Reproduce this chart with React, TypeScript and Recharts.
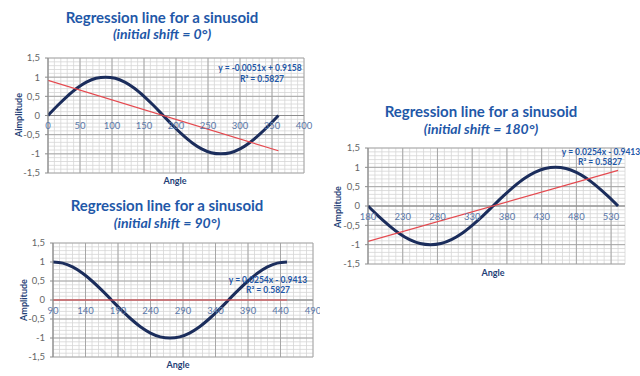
import React from 'react';
import { LineChart, Line, XAxis, YAxis, CartesianGrid, ReferenceLine, ReferenceDot } from 'recharts';

// chart 1: initial shift 0°
const angles0 = [0, 15, 30, 45, 60, 75, 90, 105, 120, 135, 150, 165, 180, 195, 210, 225, 240, 255, 270, 285, 300, 315, 330, 345, 360];
const amp0 = [0, 0.26, 0.5, 0.71, 0.87, 0.97, 1, 0.97, 0.87, 0.71, 0.5, 0.26, 0, -0.26, -0.5, -0.71, -0.87, -0.97, -1, -0.97, -0.87, -0.71, -0.5, -0.26, 0];
const fitX0 = [0, 360];
const fitY0 = [0.9158, -0.92];
const ticksX0 = [0, 50, 100, 150, 200, 250, 300, 350, 400];

// chart 2: initial shift 90°
const angles90 = [90, 105, 120, 135, 150, 165, 180, 195, 210, 225, 240, 255, 270, 285, 300, 315, 330, 345, 360, 375, 390, 405, 420, 435, 450];
const amp90 = [1, 0.97, 0.87, 0.71, 0.5, 0.26, 0, -0.26, -0.5, -0.71, -0.87, -0.97, -1, -0.97, -0.87, -0.71, -0.5, -0.26, 0, 0.26, 0.5, 0.71, 0.87, 0.97, 1];
const fitX90 = [90, 450];
const fitY90 = [0, 0];
const ticksX90 = [90, 140, 190, 240, 290, 340, 390, 440, 490];

// chart 3: initial shift 180°
const angles180 = [180, 195, 210, 225, 240, 255, 270, 285, 300, 315, 330, 345, 360, 375, 390, 405, 420, 435, 450, 465, 480, 495, 510, 525, 540];
const amp180 = [0, -0.26, -0.5, -0.71, -0.87, -0.97, -1, -0.97, -0.87, -0.71, -0.5, -0.26, 0, 0.26, 0.5, 0.71, 0.87, 0.97, 1, 0.97, 0.87, 0.71, 0.5, 0.26, 0];
const fitX180 = [180, 540];
const fitY180 = [-0.9158, 0.92];
const ticksX180 = [180, 230, 280, 330, 380, 430, 480, 530];

const ticksY = [-1.5, -1, -0.5, 0, 0.5, 1, 1.5];

const FONT = 'Lato, "Liberation Sans", sans-serif';
const BLUE = '#1f58a8';
const NAVY = '#1b2d5c';
const RED = '#e5494f';

const range = (a: number, b: number, step: number) => {
  const out: number[] = [];
  for (let v = a; v <= b + 1e-9; v += step) out.push(Math.round(v * 100) / 100);
  return out;
};

const toPoints = (xs: number[], ys: number[]) => xs.map((x, i) => ({ x, y: ys[i] }));

const Txt = ({ x, y, size, children, italic, color, rotate }: any) => (
  <div
    style={{
      position: 'absolute',
      left: x,
      top: y,
      transform: `translate(-50%, -50%)${rotate ? ' rotate(-90deg)' : ''}`,
      fontFamily: FONT,
      fontWeight: 700,
      fontStyle: italic ? 'italic' : 'normal',
      fontSize: size,
      color: color || BLUE,
      whiteSpace: 'nowrap',
      lineHeight: 1,
    }}
  >
    {children}
  </div>
);

function SineChart({ left, top, width, height, margin, domain, ticks, xs, ys, fx, fy }: any) {
  const wave = toPoints(xs, ys);
  const fit = toPoints(fx, fy);
  const minorX = range(domain[0], domain[1], 10);
  const minorY = range(-1.5, 1.5, 0.1);
  return (
    <div style={{ position: 'absolute', left, top }}>
      <LineChart width={width} height={height} margin={margin}>
        <CartesianGrid verticalValues={minorX} horizontalValues={minorY} stroke="#d6d6d6" strokeWidth={0.8} syncWithTicks />
        <CartesianGrid verticalValues={ticks} horizontalValues={ticksY} stroke="#a0a0a0" strokeWidth={0.9} syncWithTicks />
        <XAxis type="number" dataKey="x" domain={domain} ticks={ticks} interval={0} allowDataOverflow hide />
        <YAxis
          type="number"
          domain={[-1.5, 1.5]}
          ticks={ticksY}
          interval={0}
          width={40}
          tickSize={3}
          tickMargin={5}
          stroke="#8c8c8c"
          tick={{ fontSize: 9.5, fill: '#666', fontFamily: FONT }}
          tickFormatter={(v: number) => String(v).replace('.', ',')}
        />
        <ReferenceLine y={0} stroke="#8c8c8c" strokeWidth={1} />
        {ticks.map((t: number) => (
          <ReferenceDot
            key={t}
            x={t}
            y={0}
            r={0}
            stroke="none"
            label={{ value: String(t), position: 'bottom', offset: 7, fontSize: 9.5, fill: '#5a78aa', fontFamily: FONT }}
          />
        ))}
        <Line data={wave} dataKey="y" type="monotone" stroke={NAVY} strokeWidth={3} dot={false} isAnimationActive={false} />
        <Line data={fit} dataKey="y" type="linear" stroke={RED} strokeWidth={1.2} dot={false} isAnimationActive={false} />
      </LineChart>
    </div>
  );
}

export default function App() {
  return (
    <div style={{ position: 'absolute', left: 0, top: 0, width: 640, height: 376, background: '#fff', overflow: 'hidden' }}>
      {/* top left */}
      <Txt x={162} y={17} size={15}>Regression line for a sinusoid</Txt>
      <Txt x={162} y={34} size={14} italic>(initial shift = 0°)</Txt>
      <SineChart
        left={0}
        top={0}
        width={320}
        height={190}
        margin={{ top: 58, right: 16, bottom: 17, left: 8 }}
        domain={[0, 400]}
        ticks={ticksX0}
        xs={angles0}
        ys={amp0}
        fx={fitX0}
        fy={fitY0}
      />
      <Txt x={260} y={68} size={8.5}>y = -0.0051x + 0.9158</Txt>
      <Txt x={262} y={79} size={8.5}>R² = 0.5827</Txt>
      <Txt x={18} y={115} size={9} color="#1f3f77" rotate>Aimplitude</Txt>
      <Txt x={175} y={180} size={9} color="#1f3f77">Angle</Txt>

      {/* bottom left */}
      <Txt x={167} y={205} size={15}>Regression line for a sinusoid</Txt>
      <Txt x={167} y={223} size={14} italic>(initial shift = 90°)</Txt>
      <SineChart
        left={0}
        top={190}
        width={320}
        height={186}
        margin={{ top: 53, right: 7, bottom: 19, left: 13 }}
        domain={[90, 490]}
        ticks={ticksX90}
        xs={angles90}
        ys={amp90}
        fx={fitX90}
        fy={fitY90}
      />
      <Txt x={268} y={280} size={8.5}>y = 0.0254x - 0.9413</Txt>
      <Txt x={268} y={290} size={8.5}>R² = 0.5827</Txt>
      <Txt x={23} y={300} size={9} color="#1f3f77" rotate>Amplitude</Txt>
      <Txt x={178} y={364} size={9} color="#1f3f77">Angle</Txt>

      {/* right */}
      <Txt x={481} y={111} size={15}>Regression line for a sinusoid</Txt>
      <Txt x={481} y={129} size={14} italic>(initial shift = 180°)</Txt>
      <SineChart
        left={320}
        top={90}
        width={320}
        height={200}
        margin={{ top: 58, right: 15, bottom: 26, left: 8 }}
        domain={[180, 550]}
        ticks={ticksX180}
        xs={angles180}
        ys={amp180}
        fx={fitX180}
        fy={fitY180}
      />
      <Txt x={601} y={152} size={8.5}>y = 0.0254x - 0.9413</Txt>
      <Txt x={600} y={162} size={8.5}>R² = 0.5827</Txt>
      <Txt x={337} y={207} size={9} color="#1f3f77" rotate>Amplitude</Txt>
      <Txt x={493} y={272} size={9} color="#1f3f77">Angle</Txt>
    </div>
  );
}
